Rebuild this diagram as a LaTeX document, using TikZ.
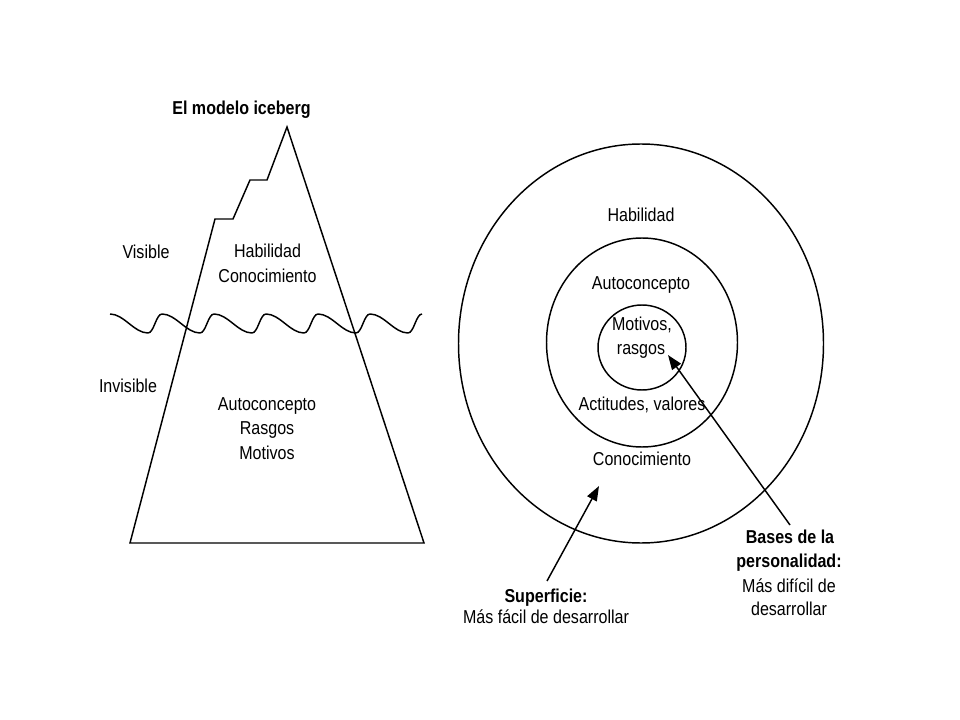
\documentclass[tikz,border=0pt]{standalone}
\usepackage{fontspec}
\setmainfont{Liberation Sans}[FakeStretch=0.86]
\usetikzlibrary{shapes.geometric,arrows.meta}
\begin{document}
\begin{tikzpicture}[x=0.75pt,y=-0.75pt,
  lbl/.style={anchor=base,inner sep=0pt,font=\fontsize{14}{18}\selectfont},
  blbl/.style={lbl,font=\fontsize{14}{18}\selectfont\bfseries},
  ring/.style={draw,ellipse,line width=1.1pt,inner sep=0pt},
  outline/.style={line width=1.1pt,line join=miter},
  pointer/.style={line width=1.1pt,-{Triangle[length=11pt,width=8pt]}}]
\useasboundingbox[fill=white] (0,0) rectangle (960,720);
% iceberg
\draw[outline] (130,543) -- (215,219) -- (233,219) -- (250,180) -- (267,180) -- (287,127) -- (424,543) -- cycle;
% wave
\draw[outline,line join=round] (110,314) foreach \k in {0,...,5} {
  .. controls ({124+52*\k},314) and ({134+52*\k},333) .. ({148+52*\k},333)
  .. controls ({154+52*\k},333) and ({156+52*\k},314) .. ({162+52*\k},314) };
% left texts
\node[blbl] (title) at (241.5,115) {El modelo iceberg};
\node[lbl] (vis) at (146,259) {Visible};
\node[lbl] (hab1) at (267.5,258) {Habilidad};
\node[lbl] (con1) at (267.5,283) {Conocimiento};
\node[lbl] (invis) at (128,392) {Invisible};
\node[lbl] (auto1) at (267,410) {Autoconcepto};
\node[lbl] (ras1) at (267,434.5) {Rasgos};
\node[lbl] (mot1) at (267,459) {Motivos};
% rings
\node[ring,minimum width=273.75pt,minimum height=299.25pt] (outer) at (641,343.5) {};
\node[ring,minimum width=143.25pt,minimum height=156.75pt] (middle) at (642,342.5) {};
\node[ring,minimum width=66pt,minimum height=63.75pt] (inner) at (642,347.5) {};
% right texts
\node[lbl] (hab2) at (641,222) {Habilidad};
\node[lbl] (auto2) at (641,290) {Autoconcepto};
\node[lbl] (mot2) at (642,330) {Motivos,};
\node[lbl] (ras2) at (641,354) {rasgos};
\node[lbl] (act) at (642,410) {Actitudes, valores};
\node[lbl] (con2) at (642,465) {Conocimiento};
\node[blbl] (sup) at (546,602) {Superficie:};
\node[lbl] (supd) at (546,623.5) {Más fácil de desarrollar};
\node[blbl] (bas1) at (790,543) {Bases de la};
\node[blbl] (bas2) at (789,567) {personalidad:};
\node[lbl] (bas3) at (789,592) {Más difícil de};
\node[lbl] (bas4) at (789,615) {desarrollar};
% arrows
\coordinate (s1) at (547,581);
\coordinate (t1) at (599,486);
\coordinate (s2) at (790,525);
\coordinate (t2) at (668,355);
\draw[pointer] (s1) -- (t1);
\draw[pointer] (s2) -- (t2);
\end{tikzpicture}
\end{document}
